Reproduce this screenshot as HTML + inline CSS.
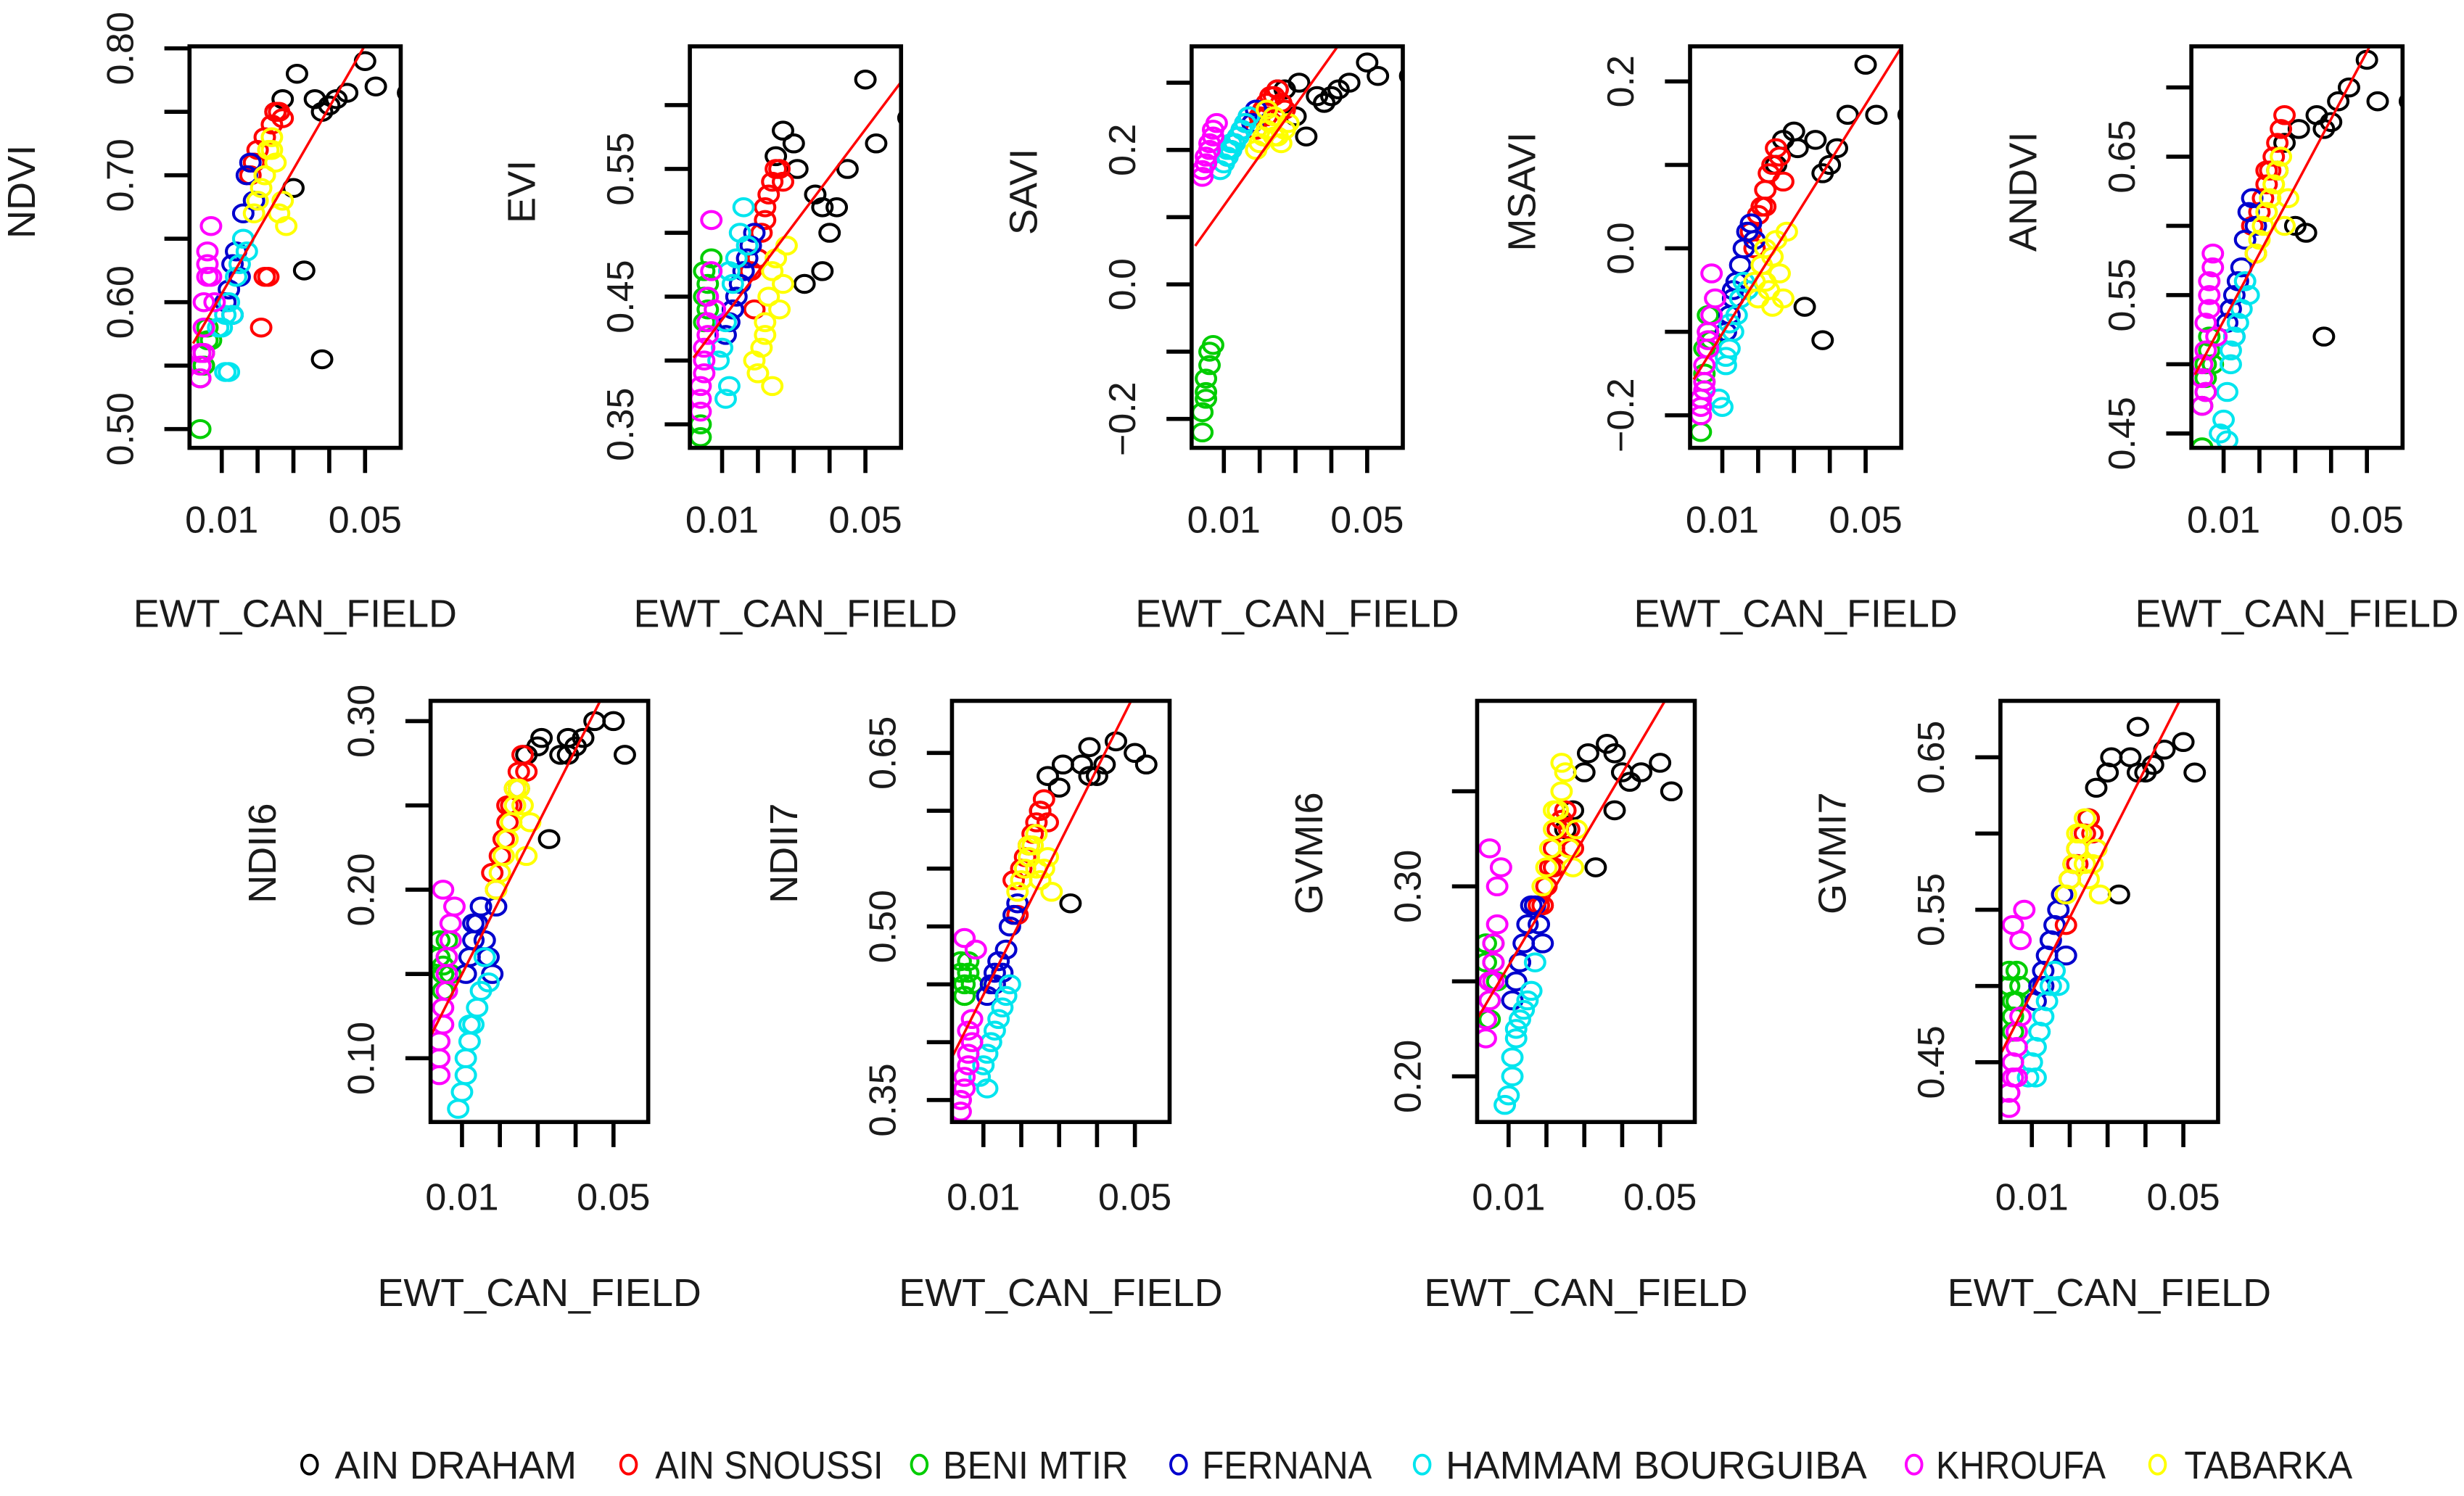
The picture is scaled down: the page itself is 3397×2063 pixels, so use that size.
<!DOCTYPE html>
<html><head><meta charset="utf-8"><style>
html,body{margin:0;padding:0;background:#fff;}
svg{display:block;}
text{font-family:"Liberation Sans",Arial,sans-serif;fill:#1a1a1a;}
</style></head>
<body>
<svg id="fig" width="3397" height="2063" viewBox="0 0 1568 952" preserveAspectRatio="none" xmlns="http://www.w3.org/2000/svg">
<g id="panels"></g>
<g id="legend"></g>
</svg>
<script>
// ---- data ----
const siteNames = ["AIN DRAHAM","AIN SNOUSSI","BENI MTIR","FERNANA","HAMMAM BOURGUIBA","KHROUFA","TABARKA"];
const siteColors = ["#000000","#ff0000","#00cd00","#0000cd","#00e5ee","#ff00ff","#ffff00"];
const ewtAinDraham = [0.025,0.027,0.031,0.030,0.033,0.036,0.038,0.040,0.042,0.045,0.050,0.053,0.062,0.038];
const ewtAinSnoussi = [0.018,0.020,0.021,0.022,0.023,0.024,0.025,0.026,0.027,0.019,0.022];
const ewtBeniMtir = [0.004,0.004,0.005,0.005,0.006,0.006,0.007,0.005];
const ewtFernana = [0.011,0.012,0.013,0.014,0.015,0.016,0.017,0.018,0.013,0.019];
const ewtHammam = [0.009,0.010,0.011,0.012,0.013,0.014,0.015,0.016,0.011,0.012,0.017];
const ewtKhroufa = [0.004,0.004,0.005,0.005,0.006,0.006,0.007,0.007,0.008,0.005,0.006,0.004];
const ewtTabarka = [0.019,0.020,0.021,0.022,0.023,0.024,0.025,0.026,0.027,0.028,0.022,0.024];
const ewtBySite = [ewtAinDraham,ewtAinSnoussi,ewtBeniMtir,ewtFernana,ewtHammam,ewtKhroufa,ewtTabarka];

const ndvi = [
 [0.75,0.76,0.78,0.69,0.625,0.76,0.75,0.755,0.76,0.765,0.79,0.77,0.765,0.555],
 [0.70,0.72,0.58,0.73,0.62,0.74,0.75,0.75,0.745,0.71,0.62],
 [0.50,0.54,0.55,0.56,0.57,0.58,0.57,0.55],
 [0.60,0.61,0.63,0.64,0.62,0.67,0.70,0.71,0.59,0.68],
 [0.58,0.58,0.545,0.545,0.59,0.62,0.63,0.65,0.59,0.60,0.64],
 [0.54,0.56,0.58,0.60,0.62,0.64,0.66,0.62,0.60,0.56,0.63,0.55],
 [0.67,0.68,0.69,0.70,0.72,0.73,0.71,0.67,0.68,0.66,0.70,0.72]];
const evi = [
 [0.56,0.58,0.55,0.57,0.46,0.53,0.52,0.50,0.52,0.55,0.62,0.57,0.59,0.47],
 [0.47,0.48,0.50,0.52,0.53,0.54,0.55,0.55,0.54,0.44,0.51],
 [0.34,0.35,0.45,0.47,0.46,0.44,0.48,0.43],
 [0.42,0.43,0.44,0.45,0.46,0.47,0.48,0.49,0.44,0.50],
 [0.40,0.41,0.37,0.38,0.46,0.48,0.50,0.52,0.43,0.47,0.49],
 [0.37,0.38,0.40,0.41,0.43,0.45,0.47,0.51,0.44,0.39,0.42,0.36],
 [0.40,0.39,0.41,0.43,0.45,0.47,0.48,0.44,0.46,0.49,0.42,0.38]];
const savi = [
 [0.29,0.29,0.30,0.25,0.22,0.28,0.27,0.28,0.29,0.30,0.33,0.31,0.31,0.27],
 [0.24,0.25,0.26,0.27,0.28,0.28,0.29,0.27,0.26,0.23,0.25],
 [-0.22,-0.19,-0.16,-0.14,-0.12,-0.10,-0.09,-0.17],
 [0.19,0.20,0.21,0.22,0.23,0.24,0.25,0.24,0.21,0.26],
 [0.17,0.18,0.19,0.20,0.21,0.22,0.23,0.24,0.20,0.21,0.25],
 [0.16,0.17,0.18,0.19,0.20,0.21,0.22,0.23,0.24,0.18,0.20,0.17],
 [0.20,0.21,0.22,0.23,0.24,0.25,0.22,0.21,0.23,0.24,0.26,0.22]];
const msavi = [
 [0.10,0.13,0.12,0.14,-0.07,0.13,0.09,0.10,0.12,0.16,0.22,0.16,0.16,-0.11],
 [0.02,0.04,0.05,0.07,0.09,0.10,0.12,0.11,0.08,0.00,0.05],
 [-0.22,-0.18,-0.15,-0.12,-0.10,-0.08,-0.11,-0.16],
 [-0.10,-0.08,-0.06,-0.04,-0.02,0.00,0.02,0.03,-0.05,0.01],
 [-0.18,-0.19,-0.14,-0.12,-0.10,-0.08,-0.06,-0.04,-0.13,-0.09,-0.05],
 [-0.20,-0.18,-0.16,-0.14,-0.12,-0.10,-0.08,-0.03,-0.06,-0.17,-0.11,-0.19],
 [-0.04,-0.06,-0.02,0.00,-0.05,-0.07,0.01,-0.03,-0.06,0.02,-0.04,-0.01]];
const andvi = [
 [0.64,0.66,0.67,0.60,0.595,0.68,0.67,0.675,0.69,0.70,0.72,0.69,0.69,0.52],
 [0.60,0.61,0.62,0.63,0.64,0.65,0.66,0.67,0.68,0.58,0.64],
 [0.44,0.47,0.49,0.50,0.51,0.52,0.50,0.48],
 [0.53,0.54,0.55,0.56,0.57,0.59,0.61,0.62,0.52,0.60],
 [0.45,0.46,0.48,0.50,0.52,0.53,0.54,0.56,0.445,0.51,0.55],
 [0.47,0.49,0.51,0.53,0.54,0.55,0.57,0.58,0.52,0.48,0.56,0.50],
 [0.58,0.59,0.60,0.61,0.62,0.63,0.64,0.65,0.60,0.62,0.61,0.63]];
const ndii6 = [
 [0.26,0.28,0.29,0.285,0.23,0.28,0.28,0.285,0.29,0.30,0.30,0.28,0.285,0.29],
 [0.21,0.22,0.23,0.24,0.25,0.26,0.27,0.28,0.27,0.20,0.25],
 [0.17,0.16,0.155,0.15,0.17,0.16,0.15,0.14],
 [0.15,0.16,0.17,0.18,0.19,0.17,0.16,0.15,0.18,0.19],
 [0.07,0.08,0.10,0.11,0.12,0.13,0.14,0.16,0.09,0.12,0.145],
 [0.09,0.11,0.12,0.13,0.14,0.15,0.17,0.18,0.19,0.20,0.16,0.10],
 [0.20,0.21,0.22,0.23,0.24,0.25,0.26,0.25,0.22,0.24,0.23,0.26]];
const ndii7 = [
 [0.60,0.63,0.64,0.62,0.52,0.64,0.63,0.63,0.64,0.66,0.65,0.64,0.62,0.655],
 [0.54,0.55,0.56,0.57,0.58,0.59,0.60,0.61,0.59,0.51,0.57],
 [0.47,0.46,0.45,0.44,0.46,0.47,0.45,0.44],
 [0.44,0.45,0.46,0.47,0.46,0.48,0.50,0.51,0.45,0.52],
 [0.37,0.38,0.39,0.40,0.41,0.42,0.43,0.44,0.36,0.40,0.45],
 [0.34,0.35,0.36,0.37,0.38,0.39,0.40,0.42,0.48,0.49,0.41,0.35],
 [0.53,0.54,0.55,0.56,0.57,0.58,0.54,0.55,0.56,0.53,0.57,0.55]];
const gvmi6 = [
 [0.33,0.34,0.37,0.36,0.31,0.375,0.37,0.36,0.355,0.36,0.365,0.35,0.355,0.34],
 [0.29,0.30,0.31,0.32,0.33,0.335,0.34,0.33,0.32,0.29,0.31],
 [0.27,0.26,0.25,0.24,0.27,0.26,0.25,0.23],
 [0.24,0.25,0.26,0.27,0.28,0.29,0.29,0.28,0.26,0.27],
 [0.185,0.19,0.21,0.22,0.23,0.235,0.24,0.245,0.20,0.225,0.26],
 [0.22,0.23,0.24,0.25,0.26,0.27,0.28,0.30,0.31,0.32,0.25,0.23],
 [0.30,0.31,0.32,0.33,0.34,0.35,0.36,0.32,0.31,0.33,0.34,0.365]];
const gvmi7 = [
 [0.61,0.63,0.65,0.64,0.56,0.65,0.64,0.64,0.645,0.655,0.66,0.64,0.63,0.67],
 [0.56,0.57,0.58,0.59,0.60,0.60,0.61,0.60,0.59,0.54,0.58],
 [0.51,0.50,0.49,0.48,0.49,0.51,0.50,0.47],
 [0.49,0.50,0.51,0.52,0.53,0.54,0.55,0.56,0.50,0.52],
 [0.44,0.45,0.46,0.47,0.48,0.49,0.50,0.51,0.44,0.47,0.50],
 [0.42,0.43,0.44,0.45,0.46,0.47,0.48,0.53,0.55,0.54,0.44,0.43],
 [0.56,0.57,0.58,0.59,0.60,0.61,0.57,0.58,0.59,0.56,0.60,0.58]];

const panelTitles = ["NDVI","EVI","SAVI","MSAVI","ANDVI","NDII6","NDII7","GVMI6","GVMI7"];
const panelValues = [ndvi,evi,savi,msavi,andvi,ndii6,ndii7,gvmi6,gvmi7];
const yDomMin = [0.4852,0.3316,-0.243,-0.239,0.4396,0.0622,0.331,0.176,0.4108];
const yDomMax = [0.8016,0.646,0.354,0.242,0.7297,0.312,0.695,0.3976,0.687];
const yTicks = [
 [0.50,0.55,0.60,0.65,0.70,0.75,0.80],[0.35,0.40,0.45,0.50,0.55,0.60],[-0.2,-0.1,0.0,0.1,0.2,0.3],
 [-0.2,-0.1,0.0,0.1,0.2],[0.45,0.50,0.55,0.60,0.65,0.70],[0.10,0.15,0.20,0.25,0.30],
 [0.35,0.40,0.45,0.50,0.55,0.60,0.65],[0.20,0.25,0.30,0.35],[0.45,0.50,0.55,0.60,0.65]];
const yTickLabels = [
 ["0.50","0.60","0.70","0.80"],["0.35","0.45","0.55"],["\u22120.2","0.0","0.2"],
 ["\u22120.2","0.0","0.2"],["0.45","0.55","0.65"],["0.10","0.20","0.30"],
 ["0.35","0.50","0.65"],["0.20","0.30"],["0.45","0.55","0.65"]];
const yLabelValues = [
 [0.50,0.60,0.70,0.80],[0.35,0.45,0.55],[-0.2,0.0,0.2],[-0.2,0.0,0.2],[0.45,0.55,0.65],
 [0.10,0.20,0.30],[0.35,0.50,0.65],[0.20,0.30],[0.45,0.55,0.65]];
const fitAt002 = [0.5675,0.4022,0.0573,-0.157,0.4925,0.1144,0.3888,0.2312,0.4566];
const fitAt060 = [0.8516,0.6183,0.490,0.241,0.7744,0.372,0.7667,0.4270,0.7409];
const xTicks = [0.01,0.02,0.03,0.04,0.05];
const xTickLabels = ["0.01","","","","0.05"];

// ---- layout ----
const boxLeft = [120.6,439,758.3,1075.5,1394.5,274,605.8,940,1273];
const rowGeo = [
 {top:29.5,bottom:285,width:134.4,xmin:0.001,pxPerUnit:2280,tickLab:339,xlab:399,ylabY:122},
 {top:446,bottom:714,width:138.5,xmin:0.0017,pxPerUnit:2410,tickLab:770,xlab:831,ylabY:543}];
const NS='http://www.w3.org/2000/svg';
function mk(tag,attrs,parent){const e=document.createElementNS(NS,tag);for(const k in attrs)e.setAttribute(k,attrs[k]);parent.appendChild(e);return e;}
const panelsG=document.getElementById('panels');
const defs=mk('defs',{},document.getElementById('fig'));

panelTitles.forEach((title,p)=>{
  const g=mk('g',{},panelsG);
  
  
  const r=rowGeo[p<5?0:1], L=boxLeft[p];
  const sx=v=>L+(v-r.xmin)*r.pxPerUnit;
  const sy=v=>r.bottom-(v-yDomMin[p])/(yDomMax[p]-yDomMin[p])*(r.bottom-r.top);
  const cp=mk('clipPath',{id:'clip'+p},defs);
  mk('rect',{x:L,y:r.top,width:r.width,height:r.bottom-r.top},cp);
  const pts=mk('g',{'clip-path':'url(#clip'+p+')'},g);
  
  
  panelValues[p].forEach((vals,s)=>{
    const xs=ewtBySite[s];
    const n=Math.min(xs.length,vals.length);
    for(let i=0;i<n;i++){
      const c=mk('ellipse',{cx:sx(xs[i]),cy:sy(vals[i]),rx:6.2,ry:5.4,fill:'none',stroke:siteColors[s],'stroke-width':1.9},pts);
      
      
    }
  });
  const ln=mk('line',{x1:sx(0.002),y1:sy(fitAt002[p]),x2:sx(0.06),y2:sy(fitAt060[p]),stroke:'#ff0000','stroke-width':1.6,'clip-path':'url(#clip'+p+')'},g);
  
  
  const bx=mk('rect',{x:L,y:r.top,width:r.width,height:r.bottom-r.top,fill:'none',stroke:'#000','stroke-width':2.6},g);
  
  
  yTicks[p].forEach(v=>{
    const t=mk('line',{x1:L-16,y1:sy(v),x2:L,y2:sy(v),stroke:'#000','stroke-width':2.6},g);
    
    
  });
  yLabelValues[p].forEach((v,i)=>{
    const x=L-36,y=sy(v);
    const t=mk('text',{x:x,y:y,'text-anchor':'middle','font-size':24,transform:'rotate(-90 '+x+' '+y+')'},g);
    t.textContent=yTickLabels[p][i];
    
    
  });
  xTicks.forEach((v,i)=>{
    const t=mk('line',{x1:sx(v),y1:r.bottom,x2:sx(v),y2:r.bottom+16,stroke:'#000','stroke-width':2.6},g);
    
    
    if(xTickLabels[i]){
      const tl=mk('text',{x:sx(v),y:r.tickLab,'text-anchor':'middle','font-size':24},g);
      tl.textContent=xTickLabels[i];
      
      
    }
  });
  const xt=mk('text',{x:L+r.width/2,y:r.xlab,'text-anchor':'middle','font-size':25,textLength:206,lengthAdjust:'spacingAndGlyphs'},g);
  xt.textContent='EWT_CAN_FIELD';
  
  
  const yx=L-107+8.5, yy=r.ylabY;
  const yt=mk('text',{x:yx,y:yy,'text-anchor':'middle','font-size':25,transform:'rotate(-90 '+yx+' '+yy+')'},g);
  yt.textContent=title;
  
  
});

// legend
const legG=document.getElementById('legend');
const legCircleX=[197,400,585,750,905,1218,1373];
const legTextX=[213,417,600,765,920,1232,1390];
const legTextW=[154,145,118,108,268,108,107];
siteNames.forEach((nm,i)=>{
  const e=mk('g',{},legG);
  
  
  mk('ellipse',{cx:legCircleX[i],cy:932,rx:5,ry:6,fill:'none',stroke:siteColors[i],'stroke-width':1.8},e);
  const t=mk('text',{x:legTextX[i],y:941,'font-size':25,textLength:legTextW[i],lengthAdjust:'spacingAndGlyphs'},e);
  t.textContent=nm;
});
</script>
</body></html>
